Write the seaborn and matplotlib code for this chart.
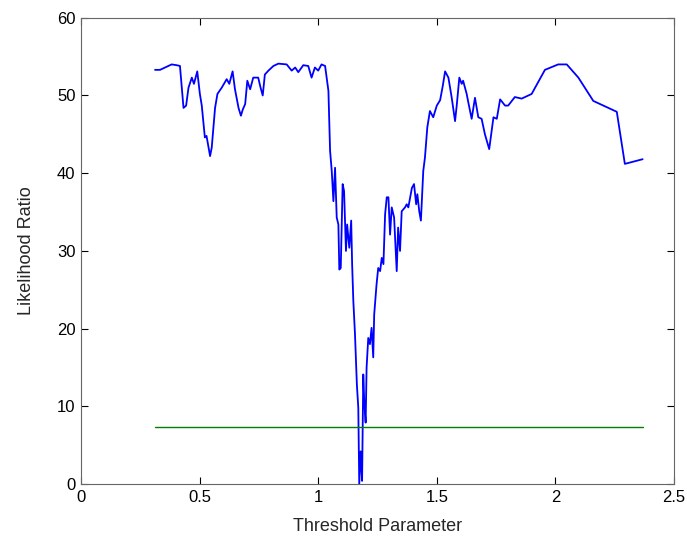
import numpy as np
import pandas as pd
import matplotlib
matplotlib.use('Agg')
import matplotlib.pyplot as plt
import seaborn as sns

# ── Data ──────────────────────────────────────────────────────
threshold = [
    0.312, 0.333, 0.382, 0.403, 0.417, 0.432, 0.443, 0.453, 0.467, 0.476,
    0.490, 0.501, 0.509, 0.522, 0.529, 0.544, 0.551, 0.565, 0.575, 0.593,
    0.614, 0.625, 0.639, 0.649, 0.664, 0.674, 0.682, 0.692, 0.701, 0.713,
    0.726, 0.747, 0.757, 0.766, 0.775, 0.790, 0.811, 0.832, 0.867, 0.888,
    0.903, 0.916, 0.937, 0.958, 0.972, 0.986, 1.000, 1.014, 1.029, 1.043,
    1.050, 1.057, 1.064, 1.071, 1.078, 1.085, 1.089, 1.095, 1.103, 1.109,
    1.117, 1.122, 1.131, 1.139, 1.143, 1.148, 1.155, 1.163, 1.169, 1.173,
    1.179, 1.185, 1.190, 1.194, 1.200, 1.204, 1.211, 1.218, 1.225, 1.232,
    1.236, 1.246, 1.253, 1.261, 1.268, 1.275, 1.282, 1.289, 1.296, 1.303,
    1.310, 1.320, 1.331, 1.337, 1.345, 1.352, 1.366, 1.373, 1.380, 1.395,
    1.404, 1.413, 1.418, 1.426, 1.433, 1.443, 1.450, 1.460, 1.471, 1.485,
    1.500, 1.514, 1.525, 1.535, 1.549, 1.563, 1.577, 1.584, 1.595, 1.605,
    1.611, 1.626, 1.633, 1.647, 1.661, 1.675, 1.689, 1.703, 1.721, 1.739,
    1.753, 1.767, 1.788, 1.801, 1.829, 1.858, 1.900, 1.956, 2.012, 2.048,
    2.097, 2.160, 2.259, 2.293, 2.368,
]
likelihood = [
    53.3, 53.3, 54.0, 53.9, 53.8, 48.4, 48.7, 51.0, 52.3, 51.5,
    53.1, 50.2, 48.7, 44.6, 44.8, 42.2, 43.3, 48.4, 50.2, 51.0,
    52.1, 51.5, 53.1, 50.8, 48.4, 47.4, 48.2, 48.9, 51.9, 50.8,
    52.3, 52.3, 51.0, 50.0, 52.7, 53.2, 53.8, 54.1, 54.0, 53.2,
    53.6, 53.0, 53.9, 53.8, 52.3, 53.6, 53.2, 54.0, 53.8, 50.6,
    42.9, 40.3, 36.4, 40.7, 34.3, 33.4, 27.6, 27.8, 38.6, 37.7,
    30.0, 33.4, 30.4, 33.9, 28.3, 23.6, 19.3, 12.8, 9.8, 0.0,
    4.2, 0.4, 14.1, 10.7, 7.9, 15.0, 18.8, 18.0, 20.1, 16.3,
    21.8, 25.7, 27.8, 27.4, 29.1, 28.3, 34.7, 36.9, 36.9, 32.1,
    35.6, 34.3, 27.4, 33.0, 30.0, 35.1, 35.6, 36.0, 35.6, 38.1,
    38.6, 36.0, 37.3, 35.1, 33.9, 40.3, 42.0, 45.9, 48.0, 47.2,
    48.7, 49.4, 51.2, 53.1, 52.3, 49.7, 46.7, 48.7, 52.3, 51.5,
    51.9, 50.2, 49.1, 47.0, 49.7, 47.2, 47.0, 45.0, 43.1, 47.2,
    47.0, 49.5, 48.7, 48.7, 49.8, 49.6, 50.2, 53.3, 54.0, 54.0,
    52.3, 49.3, 47.9, 41.2, 41.8,
]
critical_x = [0.312, 2.368]
critical_y = [7.3, 7.3]

x_ticks = [0, 0.5, 1, 1.5, 2, 2.5]
x_ticklabels = ['0', '0.5', '1', '1.5', '2', '2.5']
y_ticks = [0, 10, 20, 30, 40, 50, 60]

# ── Style ─────────────────────────────────────────────────────
sns.set_style("ticks")
plt.rcParams['font.family'] = ['Liberation Sans', 'DejaVu Sans']
plt.rcParams['xtick.direction'] = 'in'
plt.rcParams['ytick.direction'] = 'in'

fig = plt.figure(figsize=(6.87, 5.39), dpi=100)
ax = fig.add_axes([0.118, 0.102, 0.863, 0.865])

curve = pd.DataFrame({'threshold': threshold, 'likelihood': likelihood})
crit = pd.DataFrame({'threshold': critical_x, 'likelihood': critical_y})

sns.lineplot(data=curve, x='threshold', y='likelihood', estimator=None,
             sort=False, color='#0000ff', linewidth=1.3, ax=ax)
sns.lineplot(data=crit, x='threshold', y='likelihood', estimator=None,
             sort=False, color='#008000', linewidth=1.0, ax=ax)

ax.set_xlim(0, 2.5)
ax.set_ylim(0, 60)
ax.set_xticks(x_ticks)
ax.set_xticklabels(x_ticklabels)
ax.set_yticks(y_ticks)
ax.tick_params(top=True, right=True, labelsize=12, length=5, width=0.8,
               colors='black', pad=4)
for s in ax.spines.values():
    s.set_visible(True)
    s.set_color('#666666')
    s.set_linewidth(0.8)

ax.set_xlabel('Threshold Parameter', fontsize=13, labelpad=10)
ax.set_ylabel('Likelihood Ratio', fontsize=13, labelpad=16)

fig.savefig('out.png', dpi=100)
